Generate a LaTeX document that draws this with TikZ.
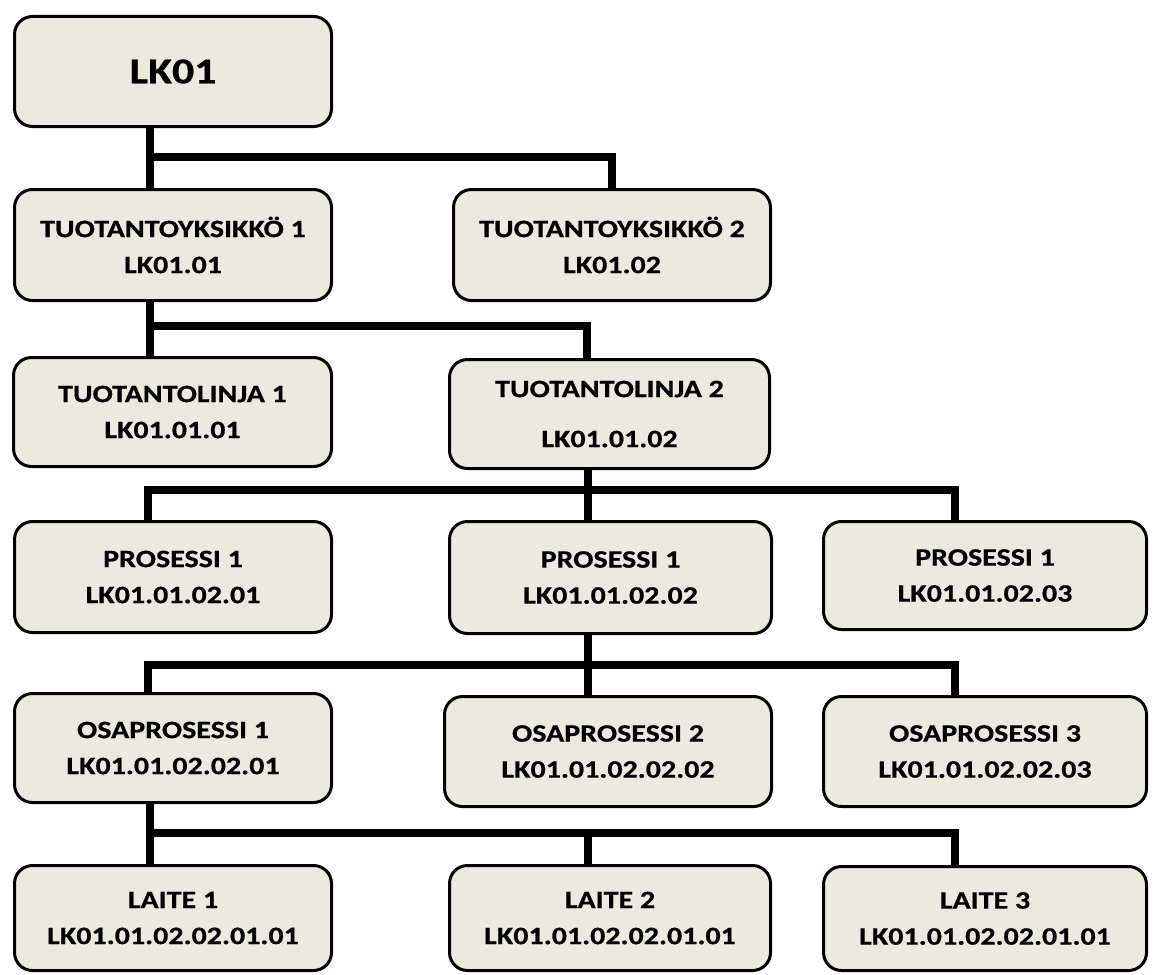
\documentclass[tikz,border=0pt]{standalone}
\usepackage{fontspec}
\setmainfont{Carlito}[FakeStretch=1.2, BoldFeatures={FakeBold=0.6}]
\usetikzlibrary{backgrounds}
\definecolor{boxfill}{HTML}{ECE9DF}
\tikzset{
  orgbox/.style={draw=black, line width=3pt, fill=boxfill, rounded corners=18pt,
    align=center, font=\fontsize{25}{36}\selectfont\bfseries,
    inner sep=0pt, outer sep=0pt},
  bigbox/.style={orgbox, font=\fontsize{36.5}{40}\selectfont\bfseries},
  conn/.style={line width=8.5pt, line join=miter, draw=black}
}
\begin{document}
\begin{tikzpicture}[x=1pt,y=-1pt]
\useasboundingbox (0,0) rectangle (1155,974);
% nodes
\node[bigbox, minimum width=317pt, minimum height=110pt] (lk) at (173,71.5) {LK01};
\node[orgbox, minimum width=317pt, minimum height=111pt] (ty1) at (173,245) {TUOTANTOYKSIKKÖ 1\\LK01.01};
\node[orgbox, minimum width=317pt, minimum height=111pt] (ty2) at (612,245) {TUOTANTOYKSIKKÖ 2\\LK01.02};
\node[orgbox, minimum width=318pt, minimum height=109pt] (tl1) at (172.5,412) {TUOTANTOLINJA 1\\LK01.01.01};
\node[orgbox, minimum width=320pt, minimum height=109pt] (tl2) at (609.5,414) {TUOTANTOLINJA 2\\[14pt]LK01.01.02};
\node[orgbox, minimum width=317pt, minimum height=111pt] (p1) at (173,577) {PROSESSI 1\\LK01.01.02.01};
\node[orgbox, minimum width=322pt, minimum height=112pt] (p2) at (610.5,577.5) {PROSESSI 1\\LK01.01.02.02};
\node[orgbox, minimum width=323pt, minimum height=108pt] (p3) at (985,575.5) {PROSESSI 1\\LK01.01.02.03};
\node[orgbox, minimum width=317pt, minimum height=109pt] (os1) at (173,748) {OSAPROSESSI 1\\LK01.01.02.02.01};
\node[orgbox, minimum width=327pt, minimum height=110pt] (os2) at (608,751.5) {OSAPROSESSI 2\\LK01.01.02.02.02};
\node[orgbox, minimum width=323pt, minimum height=110pt] (os3) at (985,751.5) {OSAPROSESSI 3\\LK01.01.02.02.03};
\node[orgbox, minimum width=317pt, minimum height=105pt] (l1) at (173,918) {LAITE 1\\LK01.01.02.02.01.01};
\node[orgbox, minimum width=321pt, minimum height=105pt] (l2) at (610,918) {LAITE 2\\LK01.01.02.02.01.01};
\node[orgbox, minimum width=323pt, minimum height=104pt] (l3) at (985,918.5) {LAITE 3\\LK01.01.02.02.01.01};
% bus coordinates
\coordinate (b1L) at (150,157);
\coordinate (b1R) at (612,157);
\coordinate (b2L) at (150,326);
\coordinate (b2R) at (587,326);
\coordinate (b3L) at (148,490);
\coordinate (b3M) at (588,490);
\coordinate (b3R) at (955,490);
\coordinate (b4L) at (148,665);
\coordinate (b4M) at (588,665);
\coordinate (b4R) at (955,665);
\coordinate (b5L) at (150,833);
\coordinate (b5M) at (588,833);
\coordinate (b5R) at (955,833);
\begin{scope}[on background layer]
  % level 1
  \draw[conn] (b1L |- lk.south) -- (b1L |- ty1.north);
  \draw[conn] (b1L) -| (b1R |- ty2.north);
  % level 2
  \draw[conn] (b2L |- ty1.south) -- (b2L |- tl1.north);
  \draw[conn] (b2L) -| (b2R |- tl2.north);
  % level 3
  \draw[conn] (b3M |- tl2.south) -- (b3M |- p2.north);
  \draw[conn] (b3L |- p1.north) |- (b3R) -- (b3R |- p3.north);
  % level 4
  \draw[conn] (b4M |- p2.south) -- (b4M |- os2.north);
  \draw[conn] (b4L |- os1.north) |- (b4R) -- (b4R |- os3.north);
  % level 5
  \draw[conn] (b5L |- os1.south) -- (b5L |- l1.north);
  \draw[conn] (b5L) -| (b5R |- l3.north);
  \draw[conn] (b5M) -- (b5M |- l2.north);
\end{scope}
\end{tikzpicture}
\end{document}
